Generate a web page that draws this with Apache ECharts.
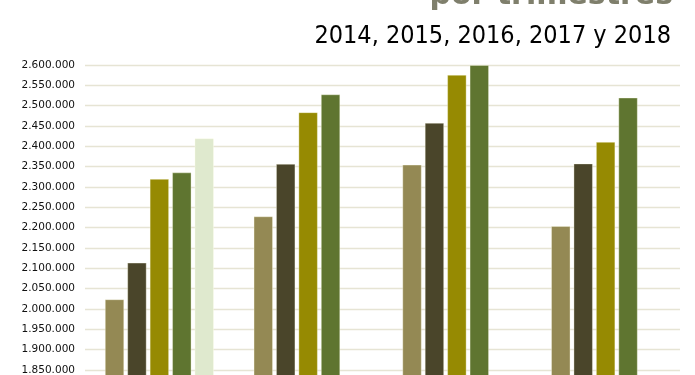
<!DOCTYPE html>
<html>
<head>
<meta charset="utf-8">
<script src="https://cdn.jsdelivr.net/npm/echarts@6/dist/echarts.min.js"></script>
<style>
html,body{margin:0;padding:0;background:#fff;overflow:hidden;width:695px;height:375px;}
#chart{width:695px;height:400px;}
</style>
</head>
<body>
<div id="chart"></div>
<script>
const categories = ['Primer trimestre', 'Segundo trimestre', 'Tercer trimestre', 'Cuarto trimestre'];
const seriesNames = ['2014', '2015', '2016', '2017', '2018'];
const values2014 = [2024000, 2228000, 2355000, 2204000];
const values2015 = [2114000, 2357000, 2458000, 2358000];
const values2016 = [2320000, 2484000, 2576000, 2411000];
const values2017 = [2336000, 2528000, 2600000, 2520000];
const values2018 = [2420000, null, null, null];
const yMin = 1800000, yMax = 2600000, yStep = 50000;
const titleText = 'por trimestres';
const subtitleText = '2014, 2015, 2016, 2017 y 2018';

const colors = ['#948954', '#4a452a', '#968a02', '#5f7530', '#dfe9ce'];
const allValues = [values2014, values2015, values2016, values2017, values2018];

function fmt(v){ return String(v).replace(/\B(?=(\d{3})+(?!\d))/g, '.'); }

const chart = echarts.init(document.getElementById('chart'), null, {renderer:'canvas'});
chart.setOption({
  animation: false,
  graphic: [
    {type:'text', right: 22, top: -19, style:{text: titleText, fill:'#7f7f6c', font:'bold 30px "DejaVu Sans"'}},
    {type:'text', right: 24, top: 24, style:{text: subtitleText, fill:'#000', font:'25px "DejaVu Sans Condensed"'}}
  ],
  grid: {left: 85, right: 15, top: 65, bottom: 9.7},
  xAxis: {
    type:'category', data: categories,
    axisLine:{show:false}, axisTick:{show:false}, axisLabel:{show:false}
  },
  yAxis: {
    type:'value', min: yMin, max: yMax, interval: yStep,
    axisLine:{show:false}, axisTick:{show:false},
    axisLabel:{formatter: fmt, color:'#111', fontFamily:'DejaVu Sans', fontSize: 10.5, margin: 10},
    splitLine:{lineStyle:{color:'#e6e4d4', width:1.3}}
  },
  series: seriesNames.map((n,i)=>({
    name: n, type:'bar', data: allValues[i],
    barWidth: 19.5, barGap: '15%',
    itemStyle:{color: colors[i], borderColor:'rgba(255,255,235,0.35)', borderWidth:1}
  }))
});
</script>
</body>
</html>
